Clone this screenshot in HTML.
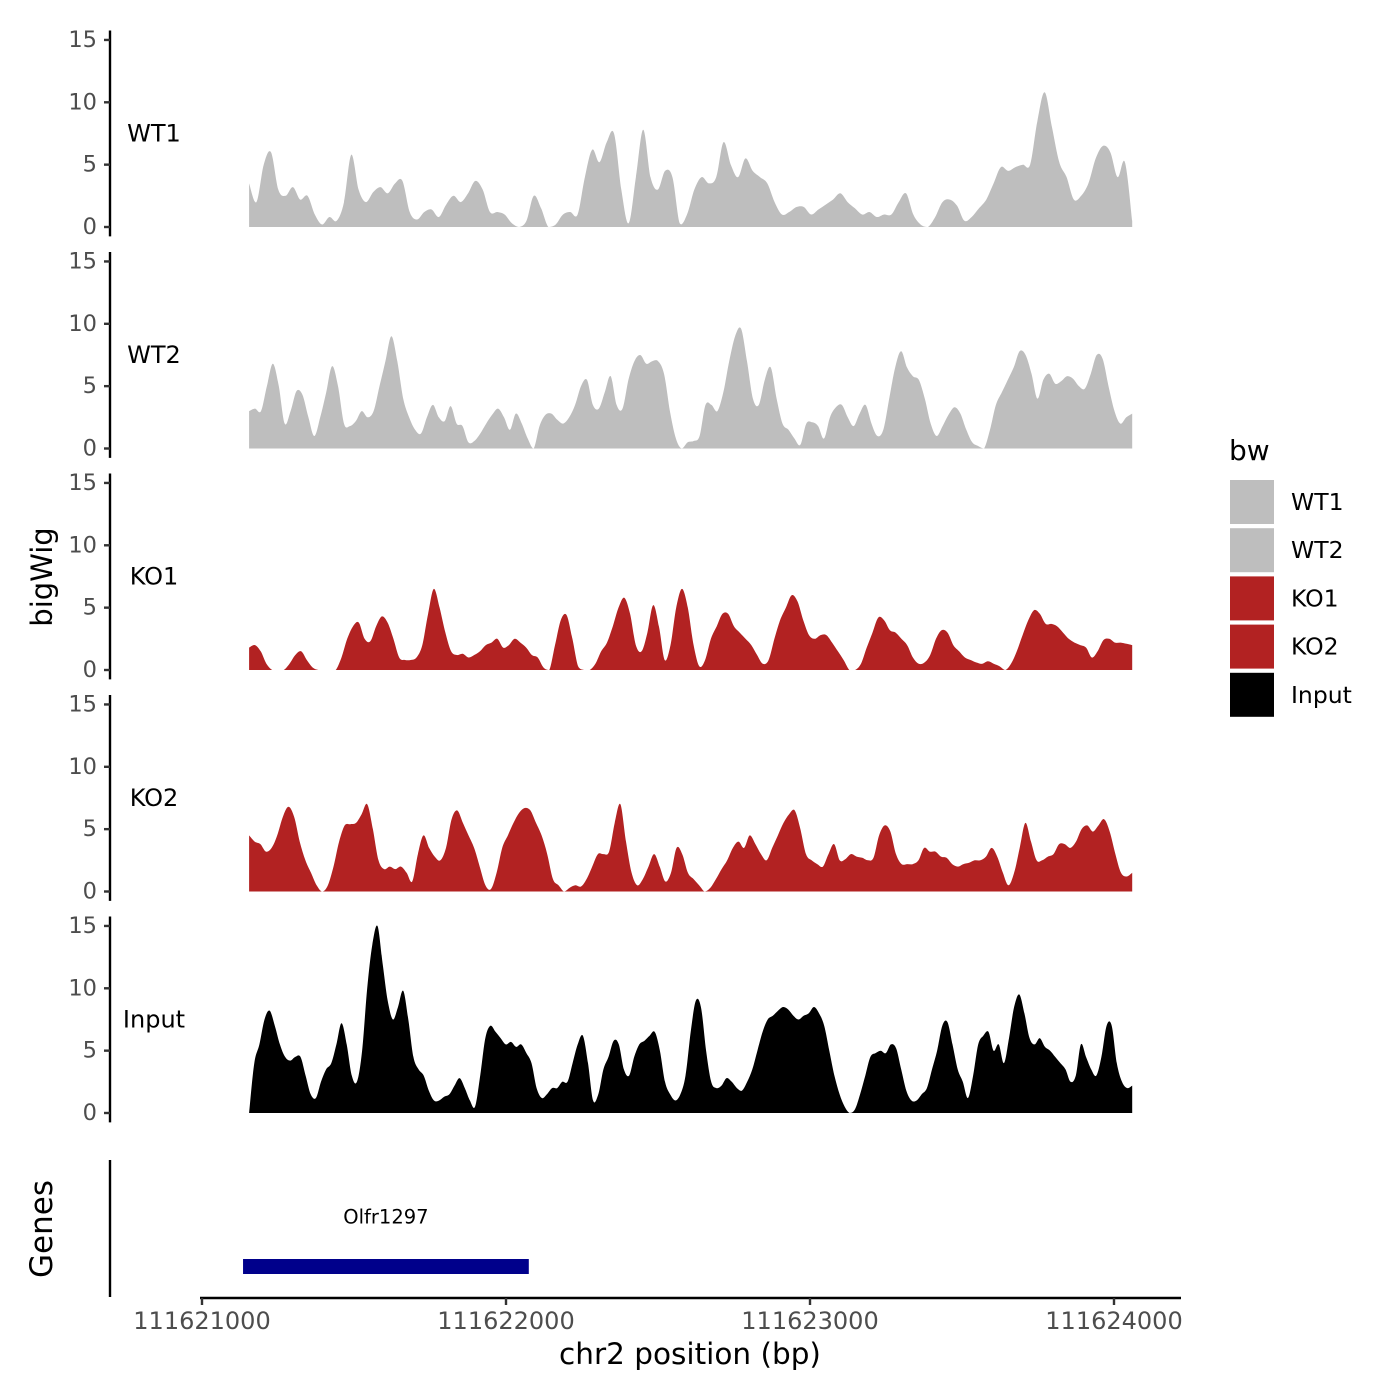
<!DOCTYPE html>
<html><head><meta charset="utf-8">
<style>
html,body{margin:0;padding:0;background:#fff;}
svg{display:block;font-family:"DejaVu Sans","Liberation Sans",sans-serif;}
</style></head>
<body>
<svg id="chart" width="1400" height="1400" xmlns="http://www.w3.org/2000/svg">
<g id="panels"></g>
<g id="legend"></g>
<g id="genes"></g>
<g id="xaxis"></g>
<text x="42" y="577" transform="rotate(-90 42 577)" text-anchor="middle" dominant-baseline="central" font-size="29" fill="#000">bigWig</text>
<text x="42" y="1229" transform="rotate(-90 42 1229)" text-anchor="middle" dominant-baseline="central" font-size="31" fill="#000">Genes</text>
<text x="690" y="1364" text-anchor="middle" font-size="29.5" fill="#000">chr2 position (bp)</text>
</svg>
<script>
const trackNames = ["WT1","WT2","KO1","KO2","Input"];
const trackColors = ["#bebebe","#bebebe","#b22222","#b22222","#000000"];
const yTicks = [0,5,10,15];
const xTicks = [111621000,111622000,111623000,111624000];
const xTickLabels = ["111621000","111622000","111623000","111624000"];
const startBp = 111621155;
const endBp = 111624060;
const wt1 = [3.5,2,5,6,3,2.5,3.2,2.2,2.5,1,0.2,0.8,0.5,2,5.8,3,2,2.8,3.2,2.7,3.5,3.7,1.2,0.6,1.2,1.4,0.8,1.8,2.5,2,2.7,3.7,3,1.2,1.2,1,0.3,0,0.5,2.5,1.5,0,0.2,1,1.2,1,4,6.2,5.2,6.8,7.5,3,0.3,4,7.8,4,3,4.5,4,0.3,1,3,4,3.5,4,6.8,5,4,5.5,4.5,4,3.5,2,1,1.2,1.6,1.6,1,1.4,1.8,2.2,2.7,2,1.5,1,1.2,0.8,1,1,2,2.7,1,0.2,0,0.8,2,2.2,1.7,0.5,0.8,1.5,2.2,3.5,4.8,4.5,4.8,5,5,8.5,10.8,8,5.2,4,2.2,2.5,3.5,5.5,6.5,6,4,5.2,0.5];
const wt2 = [3,3.2,3,5,6.8,5,2,3,4.6,4.3,2.5,1,2.5,4.5,6.6,5,2,1.8,2.2,3,2.5,3,5,7,9,7,4,2.5,1.5,1.2,2.5,3.5,2.5,2.2,3.4,2,1.8,0.5,0.6,1.2,2,2.7,3.2,2.5,1.5,2.8,2,0.8,0,1.8,2.7,2.8,2.3,2,2.5,3.5,5,5.5,3.5,3.2,4.5,5.8,3.5,3.2,5.5,7,7.5,6.8,7,7,6,3,0.8,0,0.5,0.6,1,3.5,3.5,3,4.5,7,9,9.6,7,4,3.5,5.5,6.5,4,2,1.5,0.8,0.3,2,2.1,1.8,0.8,2.5,3.3,3.5,2.5,1.8,2.8,3.5,2,1,1.5,4,6.5,7.8,6.5,5.8,5.5,4,2,1,1.8,2.7,3.3,2.8,1.5,0.5,0.2,0,1.5,3.5,4.5,5.5,6.5,7.8,7.5,6,4,5.5,6,5.2,5.4,5.8,5.6,5,4.8,6,7.5,7.2,5,3,2,2.5,2.8];
const ko1 = [1.8,2,1.5,0.5,0,0,0,0.5,1.2,1.5,0.8,0.2,0,0,0,0,1,2.5,3.5,3.8,2.5,2.3,3.5,4.3,3.8,2.5,1,0.8,0.8,1,2,4.5,6.5,5,3,1.5,1.2,1.3,1,1.2,1.5,2,2.2,2.5,1.8,2,2.5,2.2,1.8,1.2,1,0.2,0,2,4,4.4,2.5,0.3,0,0,0.5,1.5,2.2,3.5,5,5.8,4.5,2,1.5,3,5.2,3.5,0.8,2,5,6.5,5,2,0.3,0.8,2.5,3.5,4.5,4.5,3.5,3,2.5,2,1.2,0.5,0.8,2.5,4,5,6,5.5,4,2.8,2.5,2.8,2.8,2.2,1.5,0.8,0,0,0.5,1.8,3,4.2,4,3.2,3,2.5,2,1,0.5,0.6,1.2,2.5,3.2,3,2,1.5,1,0.8,0.6,0.5,0.7,0.5,0.3,0,0.5,1.5,2.8,4,4.8,4.5,3.7,3.7,3.5,3,2.5,2.2,2,1.8,1,1.5,2.4,2.5,2.2,2.2,2.1,2];
const ko2 = [4.5,4,3.8,3.2,3.5,4.5,6,6.8,6,4,2.5,1.5,0.5,0,0.5,2,4,5.3,5.4,5.5,6.2,7,5,2.5,1.8,2,1.8,2,1.5,0.8,3,4.5,3.5,2.8,2.5,3.5,5.8,6.5,5.5,4.5,3.5,2,0.5,0.2,1.5,3.5,4.5,5.5,6.3,6.7,6.5,5.5,4.5,3,1,0.5,0,0.3,0.5,0.4,1,2,3,3,3.2,5.5,7,4,1.5,0.5,1,2,3,2,0.8,1.5,3.5,3,1.5,1,0.5,0,0.3,1,1.8,2.5,3.5,4,3.5,4.5,3.8,3,2.5,3.5,4.5,5.5,6.2,6.5,5,3,2.5,2.2,2,3,3.8,2.5,2.6,3,2.8,2.7,2.5,2.7,4.5,5.3,4.8,3,2.2,2.2,2.2,2.5,3.5,3.2,3.2,2.8,2.7,2.2,2,2.2,2.3,2.5,2.5,2.8,3.5,2.8,1.5,0.5,1.5,3.5,5.5,4,2.5,2.5,2.8,3,3.8,3.8,3.5,4,5,5.3,4.8,5.3,5.8,4.8,3,1.5,1.2,1.5];
const input = [0,4,5.5,7.5,8.2,7,5.5,4.5,4.2,4.5,4.5,3,1.5,1.2,2.5,3.5,4,5.5,7.2,5.5,3,2.5,5,10,13.5,15,12,9,7.5,8.5,9.8,7.5,4.5,3.5,3,1.8,1,1,1.3,1.5,2.2,2.8,2,1,0.5,3,6,7,6.5,6,5.5,5.7,5.3,5.5,4.8,4,2,1.2,1.5,2,2,2.5,2.5,4,5.5,6.2,4,1,1.5,3.5,4.5,5.8,5.5,3.5,3,4.5,5.5,5.8,6.2,6.5,5,2.5,1.5,1,1.5,3,6.5,9,8.5,5,2.5,2,2.2,2.8,2.5,2,1.8,2.5,3.5,5,6.5,7.5,7.8,8.2,8.5,8.3,7.8,7.5,7.8,8,8.5,8,7,5,3,1.5,0.5,0,0.3,1.5,3,4.5,4.8,5,4.8,5.5,5.2,3.5,1.8,1,1,1.5,2,3.5,5,7,7.3,5.5,3.5,2.5,1.2,3,5.5,6.2,6.5,5,5.5,4,6,8.5,9.5,8,6,5.5,6,5.3,5,4.5,4,3.5,2.5,3,5.5,4.5,3.5,3,4.5,7,7,4,2.5,2,2.2];
const seriesData = [wt1, wt2, ko1, ko2, input];
const geneName = "Olfr1297";
const geneStart = 111621135;
const geneEnd = 111622075;

const NS = "http://www.w3.org/2000/svg";
function mk(tag, attrs, parent){const e=document.createElementNS(NS,tag);for(const k in attrs)e.setAttribute(k,attrs[k]);parent.appendChild(e);return e;}
function xScale(bp){return 202 + (bp-111621000)*0.304;}
const pitch = 221.5, pxPerUnit = 12.47;
function yScale(i,v){return 227 + i*pitch - v*pxPerUnit;}

const panels = document.getElementById('panels');
trackNames.forEach((name,i)=>{
  const g = mk('g',{},panels);
  
  
  const top = yScale(i,15)-9.4, bot = yScale(i,0)+9.4;
  const ax = mk('line',{x1:110,x2:110,y1:top,y2:bot,stroke:'#000','stroke-width':2.4},g);
  
  
  yTicks.forEach(t=>{
    const y = yScale(i,t);
    mk('line',{x1:104,x2:110,y1:y,y2:y,stroke:'#333','stroke-width':2.4},g);
    const tx = mk('text',{x:97,y:y,'text-anchor':'end','dominant-baseline':'central','font-size':22.5,fill:'#4d4d4d'},g);
    tx.textContent = t;
    
    
  });
  const vals = seriesData[i];
  const n = vals.length, step = (endBp-startBp)/(n-1);
  const pts = vals.map((v,k)=>[xScale(startBp+k*step), yScale(i,Math.max(0,v))]);
  const base = yScale(i,0);
  let d = 'M'+pts[0][0].toFixed(1)+','+base.toFixed(1)+' L'+pts[0][0].toFixed(1)+','+pts[0][1].toFixed(1);
  for(let k=0;k<n-1;k++){
    const p0=pts[Math.max(0,k-1)], p1=pts[k], p2=pts[k+1], p3=pts[Math.min(n-1,k+2)];
    const c1x=p1[0]+(p2[0]-p0[0])/6, c1y=Math.min(base,p1[1]+(p2[1]-p0[1])/6);
    const c2x=p2[0]-(p3[0]-p1[0])/6, c2y=Math.min(base,p2[1]-(p3[1]-p1[1])/6);
    d+=' C'+c1x.toFixed(1)+','+c1y.toFixed(1)+' '+c2x.toFixed(1)+','+c2y.toFixed(1)+' '+p2[0].toFixed(1)+','+p2[1].toFixed(1);
  }
  d += ' L'+pts[n-1][0].toFixed(1)+','+base.toFixed(1)+' Z';
  const p = mk('path',{d:d,fill:trackColors[i],stroke:'none'},g);
  
  
  const lb = mk('text',{x:154,y:yScale(i,7.5),'text-anchor':'middle','dominant-baseline':'central','font-size':24,fill:'#000'},g);
  lb.textContent = name;
  
  
});

// legend
const lg = document.getElementById('legend');
const lt = mk('text',{x:1229,y:460,'font-size':28,fill:'#000'},lg);
lt.textContent = 'bw';


trackNames.forEach((name,i)=>{
  const y = 480 + i*48.2;
  const r = mk('rect',{x:1230,y:y,width:44,height:44,fill:trackColors[i]},lg);
  
  
  const t = mk('text',{x:1291,y:y+22,'dominant-baseline':'central','font-size':23.5,fill:'#000'},lg);
  t.textContent = name;
  
  
});

// genes
const gg = document.getElementById('genes');
const gax = mk('line',{x1:110,x2:110,y1:1160,y2:1297,stroke:'#000','stroke-width':2.4},gg);


const gb = mk('rect',{x:xScale(geneStart),y:1259,width:xScale(geneEnd)-xScale(geneStart),height:15,fill:'#00008b'},gg);


const gt = mk('text',{x:(xScale(geneStart)+xScale(geneEnd))/2,y:1217,'text-anchor':'middle','dominant-baseline':'central','font-size':19.5,fill:'#000'},gg);
gt.textContent = geneName;



// x axis
const xg = document.getElementById('xaxis');
mk('line',{x1:200,x2:1181,y1:1298,y2:1298,stroke:'#000','stroke-width':2.4},xg);
xTicks.forEach((t,k)=>{
  const x = xScale(t);
  mk('line',{x1:x,x2:x,y1:1298,y2:1305,stroke:'#333','stroke-width':2.4},xg);
  const tx = mk('text',{x:x,y:1321,'text-anchor':'middle','dominant-baseline':'central','font-size':24,fill:'#4d4d4d'},xg);
  tx.textContent = xTickLabels[k];
  
  
});
</script>
</body></html>
